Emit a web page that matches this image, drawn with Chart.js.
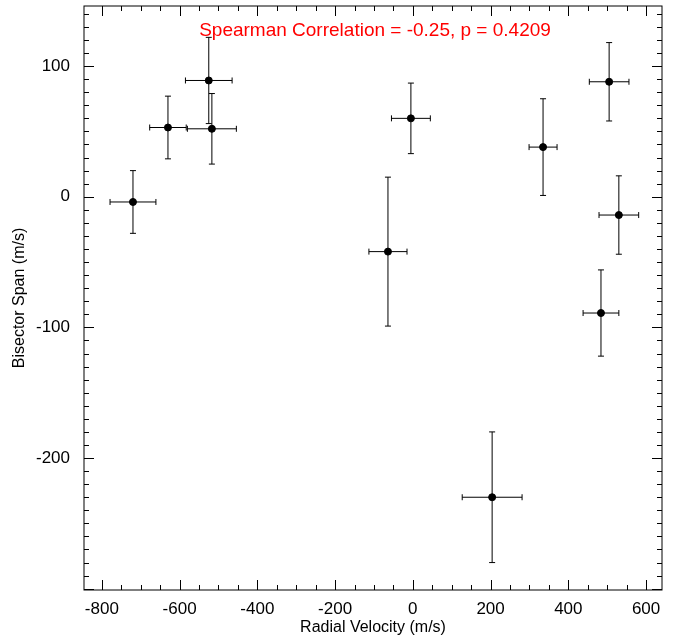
<!DOCTYPE html>
<html>
<head>
<meta charset="utf-8">
<script src="https://cdn.jsdelivr.net/npm/chart.js@4"></script>
<style>
  body { margin: 0; background: #fff; }
  #wrap { width: 678px; height: 637px; }
</style>
</head>
<body>
<div id="wrap"><canvas id="myChart"></canvas></div>
<script>
// radial velocity (m/s), bisector span (m/s) and their errors
const rv      = [-720, -630, -525, -517, -64, -5, 204, 335, 505, 530, 484];
const rvErr   = [59, 47, 60, 63, 49, 50, 77, 36, 51, 51, 46];
const bis     = [-4, 53, 89, 52, -42, 60, -230, 38, 88, -14, -89];
const bisErr  = [24, 24, 33, 27, 57, 27, 50, 37, 30, 30, 33];
const xTicks  = [-800, -600, -400, -200, 0, 200, 400, 600];
const yTicks  = [-200, -100, 0, 100];

const points = rv.map((v, i) => ({ x: v, y: bis[i] }));

// error bars, frame and inward ticks (IDL look)
const idlPlot = {
  id: 'idlPlot',
  afterDatasetsDraw(chart) {
    const ctx = chart.ctx;
    const xs = chart.scales.x, ys = chart.scales.y;
    const a = chart.chartArea;
    ctx.save();
    ctx.strokeStyle = '#000';
    ctx.lineWidth = 1;
    // error bars
    points.forEach((p, i) => {
      const px = xs.getPixelForValue(p.x), py = ys.getPixelForValue(p.y);
      const x1 = xs.getPixelForValue(p.x - rvErr[i]), x2 = xs.getPixelForValue(p.x + rvErr[i]);
      const y1 = ys.getPixelForValue(p.y - bisErr[i]), y2 = ys.getPixelForValue(p.y + bisErr[i]);
      ctx.beginPath();
      ctx.moveTo(x1, py); ctx.lineTo(x2, py);
      ctx.moveTo(x1, py - 3); ctx.lineTo(x1, py + 3);
      ctx.moveTo(x2, py - 3); ctx.lineTo(x2, py + 3);
      ctx.moveTo(px, y1); ctx.lineTo(px, y2);
      ctx.moveTo(px - 3, y1); ctx.lineTo(px + 3, y1);
      ctx.moveTo(px - 3, y2); ctx.lineTo(px + 3, y2);
      ctx.stroke();
    });
    // frame
    ctx.strokeRect(a.left, a.top, a.right - a.left, a.bottom - a.top);
    // x ticks
    ctx.beginPath();
    for (let v = -800; v <= 600; v += 50) {
      const px = Math.round(xs.getPixelForValue(v)) + 0.5;
      const len = v % 200 === 0 ? 10 : 5;
      ctx.moveTo(px, a.bottom); ctx.lineTo(px, a.bottom - len);
      ctx.moveTo(px, a.top); ctx.lineTo(px, a.top + len);
    }
    for (let v = -300; v <= 140; v += 10) {
      const py = Math.round(ys.getPixelForValue(v)) + 0.5;
      const len = v % 100 === 0 ? 10 : 5;
      ctx.moveTo(a.left, py); ctx.lineTo(a.left + len, py);
      ctx.moveTo(a.right, py); ctx.lineTo(a.right - len, py);
    }
    ctx.stroke();
    // annotation
    ctx.fillStyle = '#ff0000';
    ctx.font = '19px "Liberation Sans", Arial, sans-serif';
    ctx.textAlign = 'center';
    ctx.textBaseline = 'middle';
    ctx.fillText('Spearman Correlation = -0.25, p = 0.4209', 375, 31);
    ctx.restore();
  }
};

new Chart(document.getElementById('myChart').getContext('2d'), {
  type: 'scatter',
  data: {
    datasets: [{
      data: points,
      backgroundColor: '#000',
      borderColor: '#000',
      pointRadius: 3.5,
      pointHoverRadius: 3.5
    }]
  },
  options: {
    responsive: true,
    maintainAspectRatio: false,
    animation: false,
    layout: { padding: { top: 6, right: 16, left: 6, bottom: 0 } },
    plugins: { legend: { display: false }, tooltip: { enabled: false } },
    scales: {
      x: {
        type: 'linear', min: -846, max: 641,
        grid: { display: false },
        border: { display: false },
        afterBuildTicks: s => { s.ticks = xTicks.map(v => ({ value: v })); },
        afterFit: s => { s.height = 47; s.paddingLeft = 0; s.paddingRight = 0; },
        ticks: { color: '#000', font: { size: 17, family: '"Liberation Sans", Arial' }, padding: 1, maxRotation: 0 },
        title: { display: true, text: 'Radial Velocity (m/s)', color: '#000', padding: 0,
                 font: { size: 16, family: '"Liberation Sans", Arial' } }
      },
      y: {
        type: 'linear', min: -301, max: 146,
        grid: { display: false },
        border: { display: false },
        afterBuildTicks: s => { s.ticks = yTicks.map(v => ({ value: v })); },
        afterFit: s => { s.width = 78; s.paddingTop = 0; s.paddingBottom = 0; },
        ticks: { color: '#000', font: { size: 17, family: '"Liberation Sans", Arial' }, padding: 6 },
        title: { display: true, text: 'Bisector Span (m/s)', color: '#000', padding: 4,
                 font: { size: 16, family: '"Liberation Sans", Arial' } }
      }
    }
  },
  plugins: [idlPlot]
});
</script>
</body>
</html>
